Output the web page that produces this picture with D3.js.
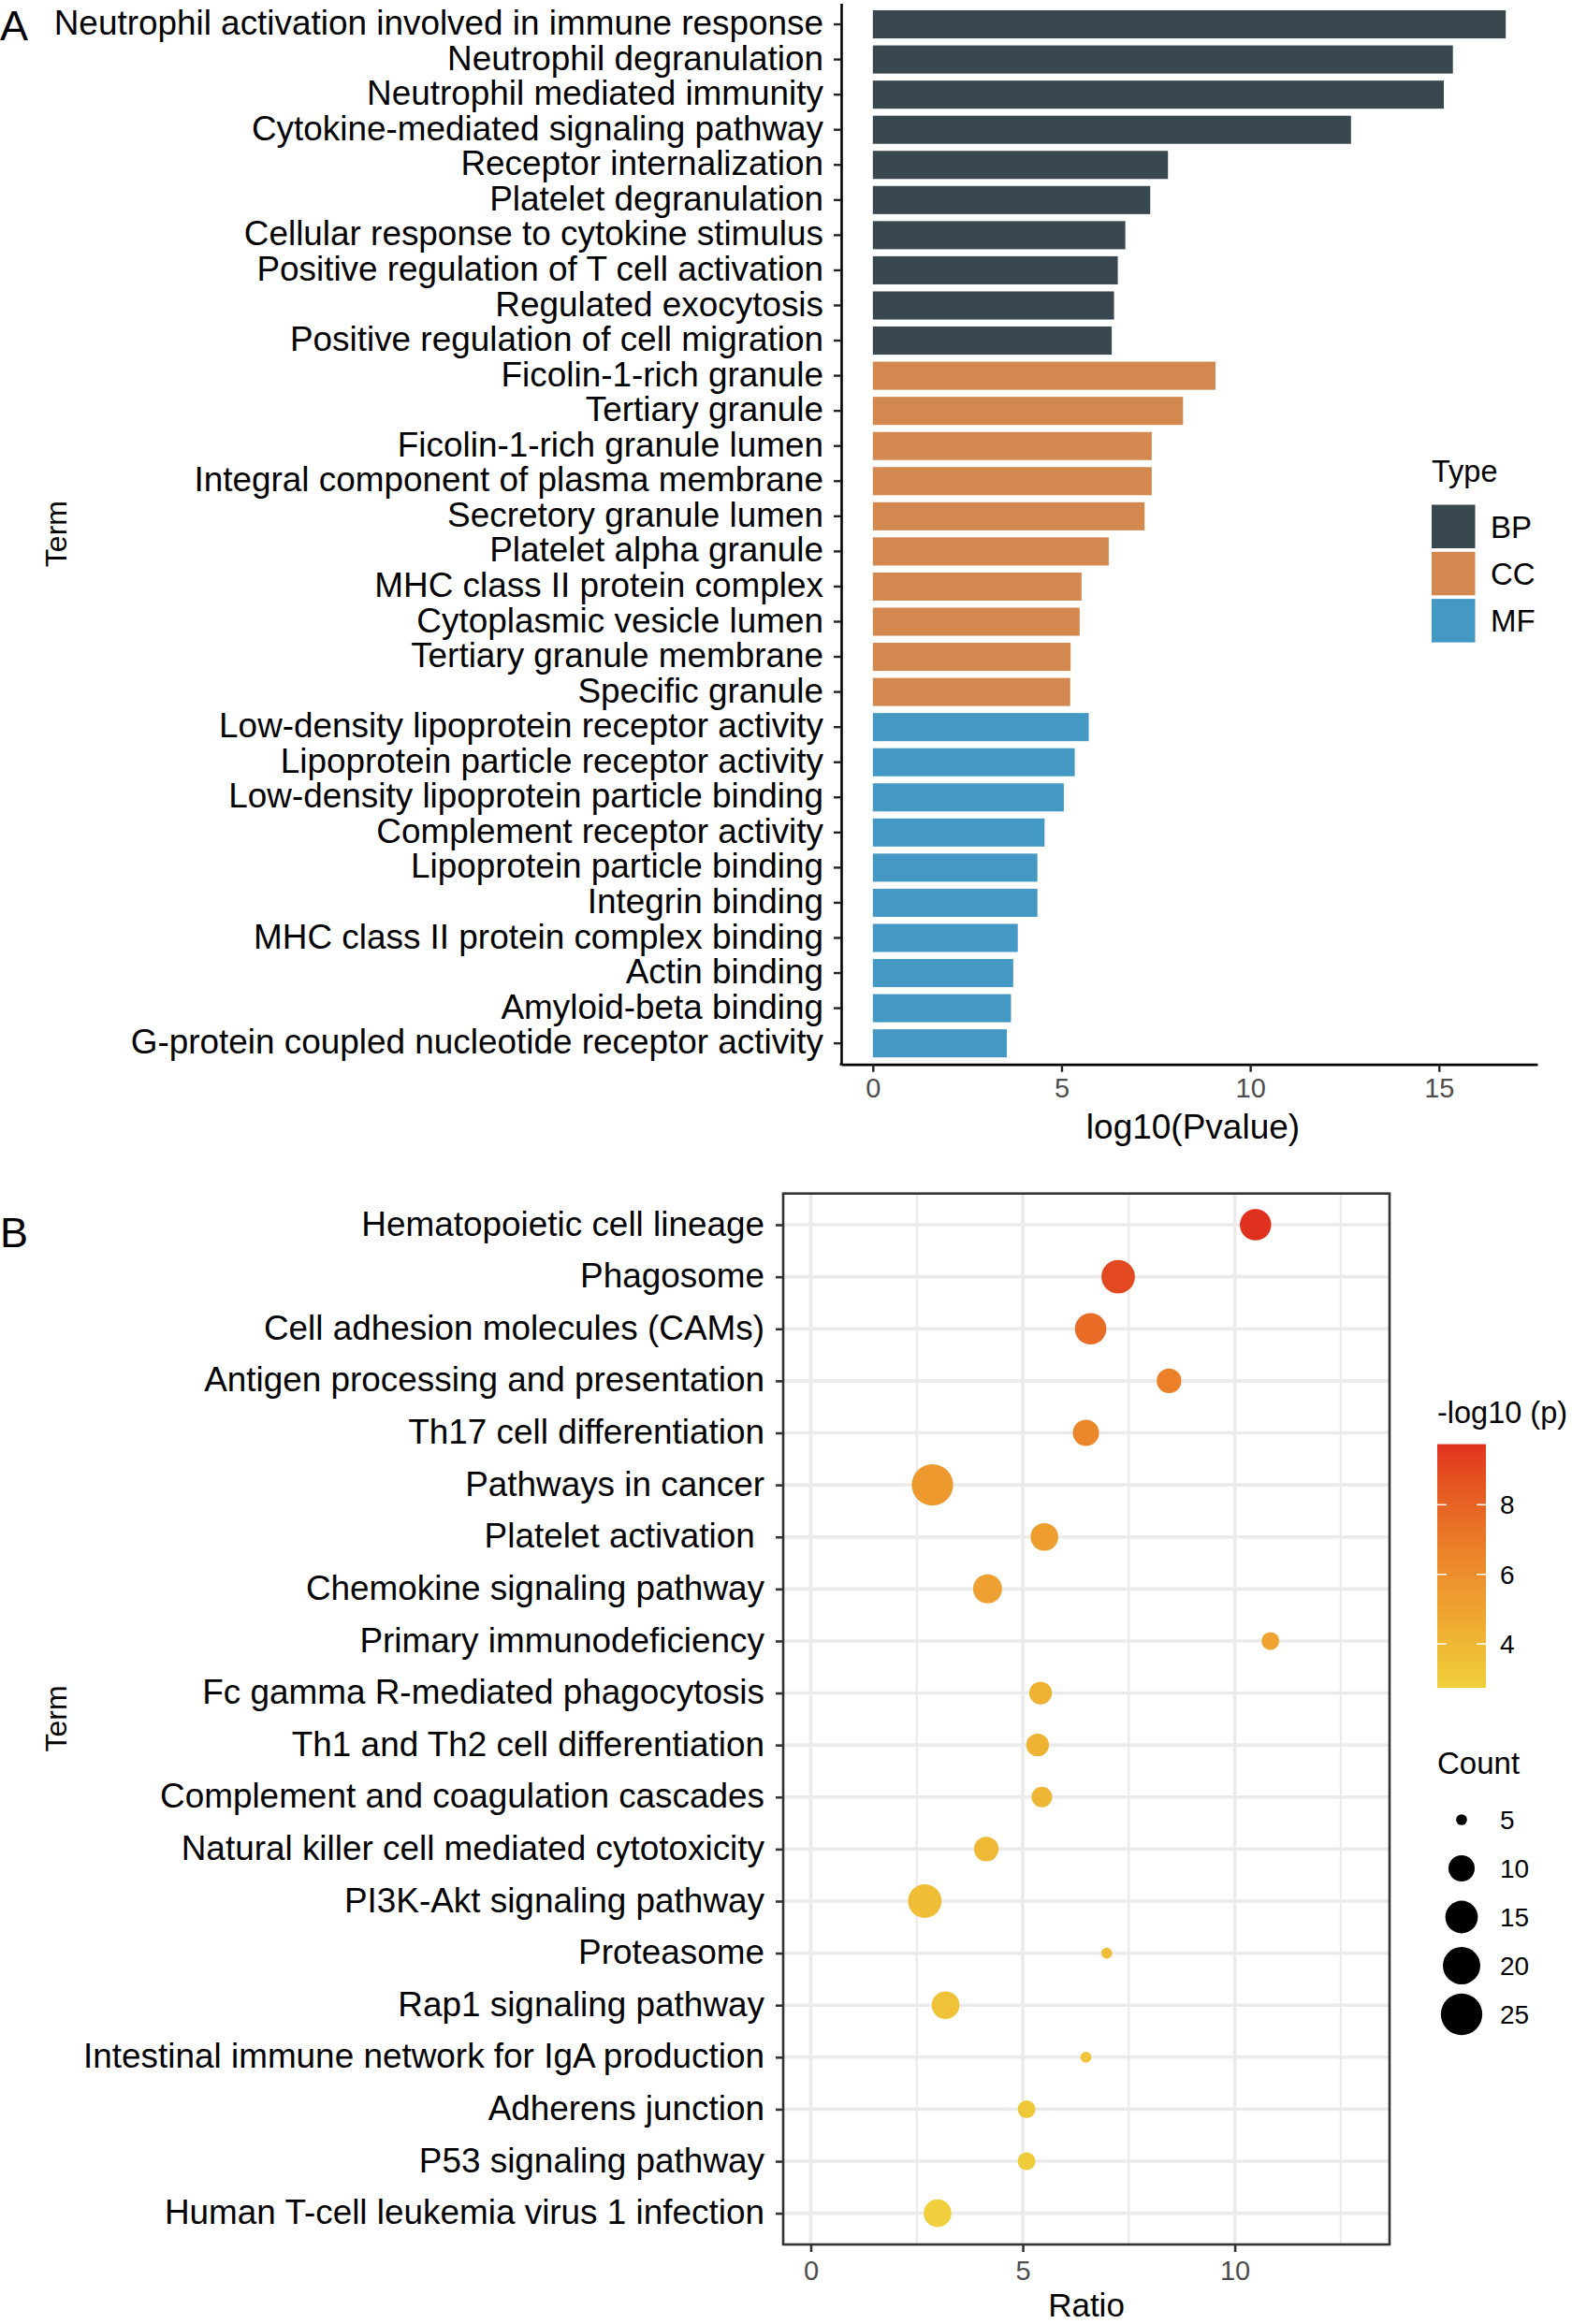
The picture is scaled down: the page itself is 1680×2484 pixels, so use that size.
<!DOCTYPE html>
<html>
<head>
<meta charset="utf-8">
<script src="https://cdn.jsdelivr.net/npm/d3@7"></script>
<style>
  html, body { margin: 0; padding: 0; background: #ffffff; }
  svg { display: block; font-family: "Liberation Sans", Arial, Helvetica, sans-serif; }
</style>
</head>
<body>
<svg id="chart" width="1680" height="2484"></svg>
<script>
// ---------------- Panel A data ----------------
const termsA = [
  "Neutrophil activation involved in immune response",
  "Neutrophil degranulation",
  "Neutrophil mediated immunity",
  "Cytokine-mediated signaling pathway",
  "Receptor internalization",
  "Platelet degranulation",
  "Cellular response to cytokine stimulus",
  "Positive regulation of T cell activation",
  "Regulated exocytosis",
  "Positive regulation of cell migration",
  "Ficolin-1-rich granule",
  "Tertiary granule",
  "Ficolin-1-rich granule lumen",
  "Integral component of plasma membrane",
  "Secretory granule lumen",
  "Platelet alpha granule",
  "MHC class II protein complex",
  "Cytoplasmic vesicle lumen",
  "Tertiary granule membrane",
  "Specific granule",
  "Low-density lipoprotein receptor activity",
  "Lipoprotein particle receptor activity",
  "Low-density lipoprotein particle binding",
  "Complement receptor activity",
  "Lipoprotein particle binding",
  "Integrin binding",
  "MHC class II protein complex binding",
  "Actin binding",
  "Amyloid-beta binding",
  "G-protein coupled nucleotide receptor activity"
];
const valuesA = [16.77, 15.37, 15.13, 12.67, 7.82, 7.35, 6.69, 6.49, 6.39, 6.33,
                 9.08, 8.22, 7.39, 7.39, 7.20, 6.25, 5.53, 5.48, 5.24, 5.23,
                 5.72, 5.35, 5.06, 4.55, 4.36, 4.36, 3.84, 3.72, 3.66, 3.55];
const typesA = ["BP","BP","BP","BP","BP","BP","BP","BP","BP","BP",
                "CC","CC","CC","CC","CC","CC","CC","CC","CC","CC",
                "MF","MF","MF","MF","MF","MF","MF","MF","MF","MF"];
const typeNames = ["BP", "CC", "MF"];
const typeColors = ["#39474E", "#D3884F", "#4399C3"];
const xTicksA = [0, 5, 10, 15];

// ---------------- Panel B data ----------------
const termsB = [
  "Hematopoietic cell lineage",
  "Phagosome",
  "Cell adhesion molecules (CAMs)",
  "Antigen processing and presentation",
  "Th17 cell differentiation",
  "Pathways in cancer",
  "Platelet activation ",
  "Chemokine signaling pathway",
  "Primary immunodeficiency",
  "Fc gamma R-mediated phagocytosis",
  "Th1 and Th2 cell differentiation",
  "Complement and coagulation cascades",
  "Natural killer cell mediated cytotoxicity",
  "PI3K-Akt signaling pathway",
  "Proteasome",
  "Rap1 signaling pathway",
  "Intestinal immune network for IgA production",
  "Adherens junction",
  "P53 signaling pathway",
  "Human T-cell leukemia virus 1 infection"
];
const ratioB = [10.49, 7.25, 6.60, 8.45, 6.49, 2.87, 5.51, 4.17, 10.84, 5.42,
                5.35, 5.45, 4.14, 2.69, 6.98, 3.18, 6.49, 5.09, 5.09, 2.99];
const countB = [14, 16, 14, 9, 10, 25, 11, 12, 6, 8,
                8, 7, 9, 16, 5, 11, 5, 6, 6, 11];
const logpB = [9.74, 9.0, 7.6, 6.7, 6.4, 5.5, 5.3, 5.1, 5.0, 4.3,
               4.2, 4.1, 3.9, 3.7, 3.6, 3.4, 3.3, 3.1, 2.95, 2.74];
const xTicksB = [0, 5, 10];
const xMinorB = [2.5, 7.5, 12.5];
const colorTicks = [4, 6, 8];
const countBreaks = [5, 10, 15, 20, 25];

// ---------------- Drawing ----------------
const svg = d3.select("#chart");
svg.append("rect").attr("width", 1680).attr("height", 2484).attr("fill", "#ffffff");
const FONT_LAB = 36.9;
const FONT_TICK = 29;

// ===== Panel A =====
const maxA = d3.max(valuesA);
const xA = d3.scaleLinear().domain([-0.05 * maxA, 1.05 * maxA]).range([899, 1643]);
const yA = d3.scaleBand().domain(termsA).range([3.5, 1137.7]).paddingInner(0.2).paddingOuter(0.2);
const colorA = d3.scaleOrdinal().domain(typeNames).range(typeColors);

const gA = svg.append("g");
gA.selectAll("rect.bar").data(termsA).join("rect")
  .attr("class", "bar")
  .attr("x", xA(0))
  .attr("y", d => yA(d))
  .attr("width", (d, i) => xA(valuesA[i]) - xA(0))
  .attr("height", yA.bandwidth())
  .attr("fill", (d, i) => colorA(typesA[i]));

// y axis
const axA = gA.append("g").attr("transform", "translate(899,0)")
  .call(d3.axisLeft(yA).tickSize(8).tickPadding(11).tickSizeOuter(0));
axA.select(".domain").attr("stroke", "#000").attr("stroke-width", 2.6);
axA.selectAll(".tick line").attr("stroke", "#222").attr("stroke-width", 2.4);
axA.selectAll(".tick text").attr("fill", "#000").attr("font-size", FONT_LAB).attr("dy", "0.3em")
  .style("font-family", "'Liberation Sans', Arial, sans-serif").style("white-space", "pre");

// x axis
const axAx = gA.append("g").attr("transform", "translate(0,1137.7)")
  .call(d3.axisBottom(xA).tickValues(xTicksA).tickSize(8).tickPadding(7).tickSizeOuter(0));
axAx.select(".domain").attr("stroke", "#000").attr("stroke-width", 2.8);
axAx.selectAll(".tick line").attr("stroke", "#222").attr("stroke-width", 2.4);
axAx.selectAll(".tick text").attr("fill", "#4d4d4d").attr("font-size", FONT_TICK)
  .style("font-family", "'Liberation Sans', Arial, sans-serif");
gA.append("line").attr("x1", 897.6).attr("x2", 899).attr("y1", 1137.7).attr("y2", 1137.7)
  .attr("stroke", "#000").attr("stroke-width", 2.8);

gA.append("text").attr("x", (xA.range()[0] + xA.range()[1]) / 2 + 4).attr("y", 1217)
  .attr("text-anchor", "middle").attr("font-size", 37).attr("fill", "#000").text("log10(Pvalue)");
gA.append("text").attr("transform", "translate(71,570.6) rotate(-90)")
  .attr("text-anchor", "middle").attr("font-size", 32).attr("fill", "#000").text("Term");
svg.append("text").attr("x", 0).attr("y", 43).attr("font-size", 45).attr("fill", "#000").text("A");

// legend A
const legA = svg.append("g");
legA.append("text").attr("x", 1530).attr("y", 515).attr("font-size", 32.5).attr("fill", "#000").text("Type");
typeNames.forEach((t, i) => {
  const y0 = 539.5 + i * 50.3;
  legA.append("rect").attr("x", 1530).attr("y", y0).attr("width", 46.5).attr("height", 46.5)
    .attr("fill", colorA(t));
  legA.append("text").attr("x", 1593).attr("y", y0 + 23.25).attr("dy", "0.36em")
    .attr("font-size", 33).attr("fill", "#000").text(t);
});

// ===== Panel B =====
const px0 = 837, px1 = 1485, py0 = 1275.7, py1 = 2399;
const xB = d3.scaleLinear().domain([-0.65, 13.65]).range([px0, px1]);
const yB = d3.scalePoint().domain(termsB).range([py0, py1]).padding(0.6);
const colorB = d3.scaleLinear().domain([2.74, 9.74]).range(["#EFCF3B", "#E0301E"])
  .interpolate(d3.interpolateLab);
const cMin = 5, cMax = 25;
const sizeB = d3.scaleLinear().domain([0, 1]).range([11.7, 44.3]);
const diam = c => sizeB(Math.sqrt((c - cMin) / (cMax - cMin)));

const gB = svg.append("g");
// grid
gB.selectAll("line.hgrid").data(termsB).join("line").attr("class", "hgrid")
  .attr("x1", px0).attr("x2", px1).attr("y1", d => yB(d)).attr("y2", d => yB(d))
  .attr("stroke", "#EBEBEB").attr("stroke-width", 3.6);
gB.selectAll("line.vminor").data(xMinorB).join("line").attr("class", "vminor")
  .attr("x1", d => xB(d)).attr("x2", d => xB(d)).attr("y1", py0).attr("y2", py1)
  .attr("stroke", "#EBEBEB").attr("stroke-width", 2.4);
gB.selectAll("line.vmajor").data(xTicksB).join("line").attr("class", "vmajor")
  .attr("x1", d => xB(d)).attr("x2", d => xB(d)).attr("y1", py0).attr("y2", py1)
  .attr("stroke", "#EBEBEB").attr("stroke-width", 3.6);

// points
gB.selectAll("circle.pt").data(termsB).join("circle").attr("class", "pt")
  .attr("cx", (d, i) => xB(ratioB[i]))
  .attr("cy", d => yB(d))
  .attr("r", (d, i) => diam(countB[i]) / 2)
  .attr("fill", (d, i) => colorB(logpB[i]));

// frame
gB.append("rect").attr("x", px0).attr("y", py0).attr("width", px1 - px0).attr("height", py1 - py0)
  .attr("fill", "none").attr("stroke", "#333333").attr("stroke-width", 2.6);

const ayB = gB.append("g").attr("transform", `translate(${px0},0)`)
  .call(d3.axisLeft(yB).tickSize(8).tickPadding(12).tickSizeOuter(0));
ayB.select(".domain").remove();
ayB.selectAll(".tick line").attr("stroke", "#333").attr("stroke-width", 2.6);
ayB.selectAll(".tick text").attr("fill", "#000").attr("font-size", FONT_LAB).attr("dy", "0.3em")
  .style("font-family", "'Liberation Sans', Arial, sans-serif").style("white-space", "pre");

const axB = gB.append("g").attr("transform", `translate(0,${py1})`)
  .call(d3.axisBottom(xB).tickValues(xTicksB).tickSize(8).tickPadding(9.5).tickSizeOuter(0));
axB.select(".domain").remove();
axB.selectAll(".tick line").attr("stroke", "#333").attr("stroke-width", 2.6);
axB.selectAll(".tick text").attr("fill", "#4d4d4d").attr("font-size", FONT_TICK)
  .style("font-family", "'Liberation Sans', Arial, sans-serif");

gB.append("text").attr("x", (px0 + px1) / 2).attr("y", 2476)
  .attr("text-anchor", "middle").attr("font-size", 35).attr("fill", "#000").text("Ratio");
gB.append("text").attr("transform", "translate(71,1837) rotate(-90)")
  .attr("text-anchor", "middle").attr("font-size", 32).attr("fill", "#000").text("Term");
svg.append("text").attr("x", 0).attr("y", 1333).attr("font-size", 45).attr("fill", "#000").text("B");

// colorbar legend
const defs = svg.append("defs");
const grad = defs.append("linearGradient").attr("id", "cbar")
  .attr("x1", 0).attr("y1", 1).attr("x2", 0).attr("y2", 0);
d3.range(0, 1.0001, 0.05).forEach(t => {
  const v = colorB.domain()[0] + t * (colorB.domain()[1] - colorB.domain()[0]);
  grad.append("stop").attr("offset", t).attr("stop-color", colorB(v));
});
const cbTop = 1543.6, cbBot = 1804, cbX = 1536, cbW = 52;
const cbScale = d3.scaleLinear().domain(colorB.domain()).range([cbBot, cbTop]);
const legB = svg.append("g");
legB.append("text").attr("x", 1536).attr("y", 1521).attr("font-size", 32.5).attr("fill", "#000").text("-log10 (p)");
legB.append("rect").attr("x", cbX).attr("y", cbTop).attr("width", cbW).attr("height", cbBot - cbTop)
  .attr("fill", "url(#cbar)");
colorTicks.forEach(v => {
  const y = cbScale(v);
  legB.append("line").attr("x1", cbX).attr("x2", cbX + 10).attr("y1", y).attr("y2", y)
    .attr("stroke", "#fff").attr("stroke-width", 1.5);
  legB.append("line").attr("x1", cbX + cbW - 10).attr("x2", cbX + cbW).attr("y1", y).attr("y2", y)
    .attr("stroke", "#fff").attr("stroke-width", 1.5);
  legB.append("text").attr("x", 1603).attr("y", y).attr("dy", "0.36em")
    .attr("font-size", 28).attr("fill", "#000").text(v);
});

// size legend
legB.append("text").attr("x", 1536).attr("y", 1896).attr("font-size", 33).attr("fill", "#000").text("Count");
countBreaks.forEach((c, i) => {
  const y = 1945 + i * 52;
  legB.append("circle").attr("cx", 1562).attr("cy", y).attr("r", diam(c) / 2).attr("fill", "#000");
  legB.append("text").attr("x", 1603).attr("y", y).attr("dy", "0.36em")
    .attr("font-size", 28).attr("fill", "#000").text(c);
});
</script>
</body>
</html>
